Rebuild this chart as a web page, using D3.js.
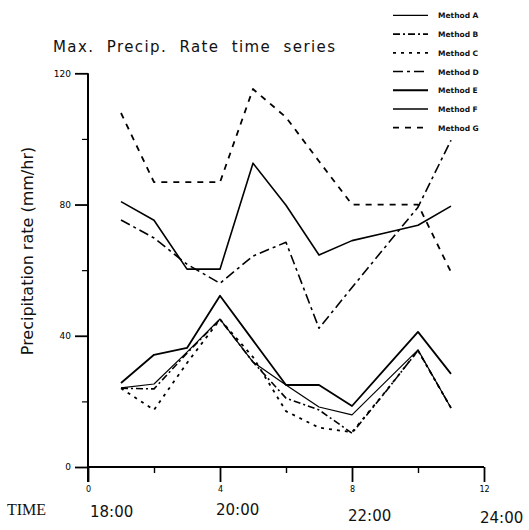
<!DOCTYPE html>
<html>
<head>
<meta charset="utf-8">
<script src="https://cdn.jsdelivr.net/npm/d3@7"></script>
<style>
  html, body { margin: 0; padding: 0; background: #fff; }
  svg { display: block; }
</style>
</head>
<body>
<svg id="chart" width="529" height="530"></svg>
<script>
// ---- data ----
const steps = [1, 2, 3, 4, 5, 6, 7, 8, 9, 10, 11];
const methodNames = ["Method A", "Method B", "Method C", "Method D", "Method E", "Method F", "Method G"];
const methodA = [24.1, 25.3, 35.0, 45.1, 32.0, 25.0, 18.3, 15.9, 25.8, 35.7, 18.0];
const methodB = [24.0, 23.8, 34.7, 45.0, 32.0, 21.0, 17.4, 10.3, 22.7, 35.5, 18.0];
const methodC = [24.0, 17.4, 31.7, 45.0, 33.5, 17.0, 12.0, 10.6, 22.8, 35.5, 18.0];
const methodD = [75.3, 69.8, 61.8, 56.0, 64.3, 68.5, 42.3, 54.7, 67.0, 79.2, 99.6];
const methodE = [25.6, 34.2, 36.3, 52.2, 38.6, 25.0, 25.0, 18.6, 29.9, 41.2, 28.4];
const methodF = [80.9, 75.2, 60.3, 60.3, 92.6, 79.8, 64.6, 69.0, 71.3, 73.7, 79.5];
const methodG = [107.9, 86.8, 86.8, 86.8, 115.2, 106.6, 93.2, 80.0, 80.0, 80.0, 59.4];
const yMajorTicks = [0, 40, 80, 120];
const yMinorTicks = [20, 60, 100];
const xMajorTicks = [0, 4, 8, 12];
const xMinorTicks = [2, 6, 10];
const timeLabels = ["18:00", "20:00", "22:00", "24:00"];

const seriesValues = [methodA, methodB, methodC, methodD, methodE, methodF, methodG];

// ---- styles (not data) ----
const styles = [
  { dash: null,          width: 1.2 },
  { dash: "7,3,2,3",     width: 1.6 },
  { dash: "3,5",         width: 1.8 },
  { dash: "10,4,3,4",    width: 1.6 },
  { dash: null,          width: 1.8 },
  { dash: null,          width: 1.6 },
  { dash: "6,6",         width: 1.8 }
];

const svg = d3.select("#chart");
const x = d3.scaleLinear().domain([0, 12]).range([88, 484]);
const y = d3.scaleLinear().domain([0, 120]).range([467, 73.3]);

// ---- axes ----
const yAxis = d3.axisLeft(y).tickValues(yMajorTicks).tickSize(13).tickPadding(4).tickFormat(d3.format("d"));
const gy = svg.append("g").attr("transform", `translate(${x(0)},0)`).call(yAxis);
gy.select(".domain").attr("stroke-width", 2).attr("d", `M0,${y(120)}V${y(0) + 15}`);
gy.selectAll(".tick line").attr("stroke-width", 1.8);
gy.selectAll(".tick text").attr("font-family", "DejaVu Sans, sans-serif").attr("font-size", 9);

const yMinor = d3.axisLeft(y).tickValues(yMinorTicks).tickSize(6).tickFormat("");
const gym = svg.append("g").attr("transform", `translate(${x(0)},0)`).call(yMinor);
gym.select(".domain").remove();
gym.selectAll(".tick line").attr("stroke-width", 1.2);

const xAxis = d3.axisBottom(x).tickValues(xMajorTicks).tickSize(15).tickPadding(4).tickFormat(d3.format("d"));
const gx = svg.append("g").attr("transform", `translate(0,${y(0)})`).call(xAxis);
gx.select(".domain").attr("stroke-width", 2).attr("d", `M${x(0)},0H${x(12)}`);
gx.selectAll(".tick line").attr("stroke-width", 1.8);
gx.selectAll(".tick text").attr("font-family", "DejaVu Sans, sans-serif").attr("font-size", 8);

const xMinor = d3.axisBottom(x).tickValues(xMinorTicks).tickSize(6).tickFormat("");
const gxm = svg.append("g").attr("transform", `translate(0,${y(0)})`).call(xMinor);
gxm.select(".domain").remove();
gxm.selectAll(".tick line").attr("stroke-width", 1.4);

// time labels under the ticks
const timeBaselines = [517, 515, 521, 523];
svg.append("g").selectAll("text").data(timeLabels).join("text")
  .attr("x", (d, i) => x(xMajorTicks[i]) - 4 + (i === 0 ? 6 : 0))
  .attr("y", (d, i) => timeBaselines[i])
  .attr("font-family", "DejaVu Sans, sans-serif")
  .attr("font-size", 15)
  .attr("fill", "#111")
  .text(d => d);

svg.append("text")
  .attr("x", 7).attr("y", 515)
  .attr("font-family", "Liberation Serif, serif")
  .attr("font-size", 16)
  .attr("fill", "#111")
  .text("TIME");

// title
svg.append("text")
  .attr("x", 53).attr("y", 52)
  .attr("font-family", "DejaVu Sans, sans-serif")
  .attr("font-size", 15)
  .attr("letter-spacing", 1.4)
  .attr("fill", "#111")
  .style("white-space", "pre")
  .text("Max.  Precip.  Rate  time  series");

// y label
svg.append("text")
  .attr("transform", "translate(33,251) rotate(-90)")
  .attr("text-anchor", "middle")
  .attr("font-family", "DejaVu Sans, sans-serif")
  .attr("font-size", 16)
  .attr("fill", "#111")
  .text("Precipitation rate (mm/hr)");

// ---- lines ----
const line = d3.line().x((d, i) => x(steps[i])).y(d => y(d));
svg.append("g").selectAll("path").data(seriesValues).join("path")
  .attr("d", d => line(d))
  .attr("fill", "none")
  .attr("stroke", "#000")
  .attr("stroke-width", (d, i) => styles[i].width)
  .attr("stroke-dasharray", (d, i) => styles[i].dash)
  .attr("stroke-linejoin", "round");

// ---- legend ----
const legendY = d3.scalePoint().domain(methodNames).range([15.4, 127.7]);
const lg = svg.append("g").selectAll("g").data(methodNames).join("g")
  .attr("transform", d => `translate(0,${legendY(d)})`);
lg.append("line")
  .attr("x1", 393).attr("x2", 428).attr("y1", 0).attr("y2", 0)
  .attr("stroke", "#000")
  .attr("stroke-width", (d, i) => styles[i].width)
  .attr("stroke-dasharray", (d, i) => styles[i].dash);
lg.append("text")
  .attr("x", 438).attr("y", 3)
  .attr("font-family", "DejaVu Sans, sans-serif")
  .attr("font-weight", "bold")
  .attr("font-size", 7.5)
  .attr("fill", "#111")
  .text(d => d);
</script>
</body>
</html>
